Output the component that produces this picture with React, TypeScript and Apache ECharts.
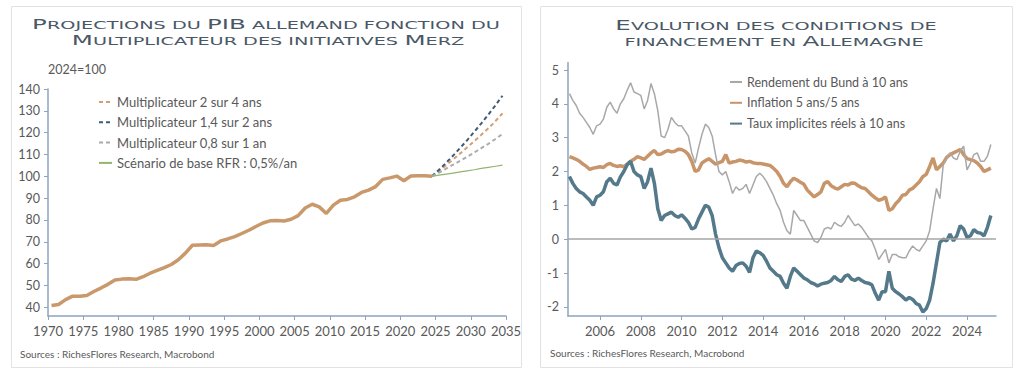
import React, { useEffect, useRef } from 'react';
import * as echarts from 'echarts';

// ---------- Left chart data (2024 = 100) ----------
const gdpYears = [
  1970, 1971, 1972, 1973, 1974, 1975, 1976, 1977, 1978, 1979,
  1980, 1981, 1982, 1983, 1984, 1985, 1986, 1987, 1988, 1989,
  1990, 1991, 1992, 1993, 1994, 1995, 1996, 1997, 1998, 1999,
  2000, 2001, 2002, 2003, 2004, 2005, 2006, 2007, 2008, 2009,
  2010, 2011, 2012, 2013, 2014, 2015, 2016, 2017, 2018, 2019,
  2020, 2021, 2022, 2023, 2024,
];
const gdpIndex = [
  40.8, 41.3, 43.5, 45.1, 45.0, 45.4, 47.2, 48.8, 50.5, 52.5,
  52.9, 53.1, 52.8, 54.0, 55.6, 56.9, 58.2, 59.6, 61.8, 64.8,
  68.4, 68.5, 68.6, 68.3, 70.4, 71.3, 72.4, 73.8, 75.3, 77.0,
  78.6, 79.6, 79.7, 79.5, 80.3, 82.0, 85.5, 87.2, 86.0, 83.0,
  86.8, 89.0, 89.4, 90.6, 92.6, 93.7, 95.3, 98.6, 99.3, 100.1,
  98.0, 100.1, 100.3, 100.2, 100.0,
];
const projYears = [2024, 2025, 2026, 2027, 2028, 2029, 2030, 2031, 2032, 2033, 2034];
const projMult2 = [100, 102.5, 105.1, 107.8, 110.5, 113.3, 116.1, 119.0, 122.0, 125.3, 128.8];
const projMult14 = [100, 103.0, 106.2, 109.5, 113.0, 116.6, 120.4, 124.3, 128.3, 132.5, 136.9];
const projMult08 = [100, 101.7, 103.5, 105.3, 107.1, 109.0, 110.9, 112.9, 114.9, 117.1, 119.4];
const projBase = [100, 100.5, 101.0, 101.5, 102.0, 102.5, 103.0, 103.6, 104.1, 104.6, 105.1];

const leftNames = [
  'Multiplicateur 2 sur 4 ans',
  'Multiplicateur 1,4 sur 2 ans',
  'Multiplicateur 0,8 sur 1 an',
  'Scénario de base RFR : 0,5%/an',
];

// ---------- Right chart data (every two months from mid-2004) ----------
const ratesStartYear = 2004.5;
const ratesStepYears = 1 / 6;
const bund10y = [
  4.30, 4.10, 3.95, 3.72, 3.60, 3.45, 3.30, 3.10, 3.35, 3.40,
  3.55, 3.90, 4.05, 3.85, 3.72, 4.00, 4.15, 4.40, 4.62, 4.35,
  4.30, 4.25, 3.85, 4.10, 4.60, 4.30, 3.80, 3.05, 3.00, 3.25,
  3.60, 3.45, 3.35, 3.35, 3.20, 3.05, 2.55, 2.25, 2.70, 3.10,
  3.40, 3.30, 3.05, 2.50, 2.00, 1.90, 2.00, 1.70, 1.35, 1.55,
  1.45, 1.50, 1.62, 1.35, 1.60, 1.85, 1.95, 1.85, 1.70, 1.50,
  1.30, 1.05, 0.85, 0.50, 0.25, 0.15, 0.85, 0.70, 0.55, 0.55,
  0.35, 0.15, -0.05, -0.10, 0.05, 0.30, 0.35, 0.30, 0.50, 0.42,
  0.38, 0.50, 0.70, 0.55, 0.40, 0.45, 0.35, 0.20, 0.05, -0.05,
  -0.30, -0.60, -0.45, -0.30, -0.70, -0.45, -0.45, -0.52, -0.55, -0.55,
  -0.35, -0.20, -0.30, -0.35, -0.20, -0.05, 0.25, 0.90, 1.50, 1.20,
  2.20, 2.40, 2.55, 2.40, 2.35, 2.60, 2.75, 2.05, 2.25, 2.50,
  2.55, 2.30, 2.30, 2.45, 2.80,
];
const infl5y5y = [
  2.44, 2.40, 2.36, 2.30, 2.22, 2.15, 2.06, 2.10, 2.12, 2.14,
  2.12, 2.20, 2.24, 2.18, 2.15, 2.17, 2.14, 2.22, 2.30, 2.36,
  2.44, 2.40, 2.36, 2.45, 2.55, 2.62, 2.50, 2.52, 2.58, 2.62,
  2.58, 2.60, 2.66, 2.65, 2.60, 2.50, 2.30, 2.00, 2.05, 2.25,
  2.32, 2.38, 2.30, 2.22, 2.26, 2.30, 2.50, 2.25, 2.28, 2.30,
  2.34, 2.32, 2.28, 2.30, 2.26, 2.24, 2.24, 2.22, 2.20, 2.18,
  2.10, 2.00, 1.85, 1.65, 1.55, 1.70, 1.80, 1.75, 1.68, 1.62,
  1.45, 1.35, 1.25, 1.32, 1.40, 1.65, 1.70, 1.58, 1.52, 1.48,
  1.55, 1.62, 1.60, 1.66, 1.65, 1.58, 1.52, 1.50, 1.40, 1.30,
  1.22, 1.15, 1.18, 1.25, 0.85, 0.90, 1.05, 1.15, 1.30, 1.32,
  1.45, 1.50, 1.60, 1.70, 1.85, 1.92, 2.15, 2.40, 2.05, 2.15,
  2.25, 2.42, 2.50, 2.55, 2.60, 2.65, 2.50, 2.38, 2.35, 2.32,
  2.25, 2.15, 2.00, 2.05, 2.10,
];
const realRate10y = [
  1.85, 1.65, 1.50, 1.40, 1.35, 1.25, 1.15, 1.00, 1.25, 1.30,
  1.40, 1.70, 1.80, 1.65, 1.60, 1.84, 2.00, 2.20, 2.30, 2.00,
  1.90, 1.85, 1.50, 1.70, 2.10, 1.65, 0.90, 0.55, 0.70, 0.75,
  0.80, 0.70, 0.65, 0.72, 0.62, 0.50, 0.30, 0.35, 0.60, 0.80,
  1.00, 0.95, 0.70, 0.15, -0.25, -0.55, -0.70, -0.85, -0.95, -0.78,
  -0.72, -0.70, -0.80, -0.98, -0.55, -0.35, -0.40, -0.48, -0.65, -0.85,
  -0.95, -1.05, -1.10, -1.30, -1.45, -1.10, -0.85, -0.95, -1.05, -1.15,
  -1.20, -1.28, -1.32, -1.38, -1.33, -1.30, -1.28, -1.22, -1.10, -1.20,
  -1.25, -1.10, -1.05, -1.18, -1.22, -1.15, -1.22, -1.28, -1.30, -1.35,
  -1.60, -1.80, -1.55, -1.55, -0.95, -1.45, -1.55, -1.62, -1.70, -1.80,
  -1.72, -1.78, -1.90, -1.95, -2.15, -2.05, -1.80, -1.30, -0.70, -0.10,
  0.00, -0.05, 0.15, -0.05, 0.10, 0.40, 0.30, 0.05, 0.10, 0.28,
  0.20, 0.18, 0.10, 0.35, 0.70,
];
const rightNames = [
  'Rendement du Bund à 10 ans',
  'Inflation 5 ans/5 ans',
  'Taux implicites réels à 10 ans',
];

const sourcesText = 'Sources : RichesFlores Research, Macrobond';

const FONT = 'Lato';
const TEXT = '#595959';
const AXIS = '#8ea3bf';
const TITLE = '#4a5866';

function richTitle(x: number, y: number, text: string) {
  return {
    type: 'text',
    x,
    y,
    scaleX: 1.75,
    scaleY: 1,
    style: {
      text,
      align: 'center',
      verticalAlign: 'middle',
      fill: TITLE,
      rich: {
        b: { fontFamily: 'DejaVu Sans', fontSize: 14, fill: TITLE, verticalAlign: 'bottom' },
        s: { fontFamily: 'DejaVu Sans', fontSize: 11, fill: TITLE, verticalAlign: 'bottom' },
      },
    },
  };
}

export default function App() {
  const ref = useRef<HTMLDivElement>(null);

  useEffect(() => {
    document.body.style.margin = '0';
    if (!ref.current) return;
    const chart = echarts.init(ref.current, undefined, { renderer: 'svg' });

    const gdpData = gdpYears.map((y, i) => [y + 0.5, gdpIndex[i]]);
    const proj = (arr: number[]) => projYears.map((y, i) => [y + 0.5, arr[i]]);
    const rx = (i: number) => ratesStartYear + i * ratesStepYears;
    const bundData = bund10y.map((v, i) => [rx(i), v]);
    const inflData = infl5y5y.map((v, i) => [rx(i), v]);
    const realData = realRate10y.map((v, i) => [rx(i), v]);

    const intLabel = (v: number) => (Math.abs(v - Math.round(v)) < 1e-6 ? String(Math.round(v)) : '');

    const axisCommonX = {
      type: 'value',
      axisLine: { show: true, onZero: false, lineStyle: { color: AXIS, width: 1.5 } },
      axisTick: { show: true, length: 4, lineStyle: { color: AXIS } },
      splitLine: { show: false },
      axisLabel: { color: TEXT, fontSize: 13, fontFamily: FONT, margin: 8, formatter: intLabel, showMinLabel: false, showMaxLabel: true },
    };
    const axisCommonY = {
      type: 'value',
      axisLine: { show: true, onZero: false, lineStyle: { color: AXIS, width: 1.5 } },
      axisTick: { show: true, length: 4, lineStyle: { color: AXIS } },
      splitLine: { show: false },
      axisLabel: { color: TEXT, fontSize: 12.5, fontFamily: FONT, margin: 8, formatter: intLabel, showMinLabel: false },
    };

    chart.setOption({
      animation: false,
      textStyle: { fontFamily: FONT },
      grid: [
        { left: 48, top: 89, width: 458, height: 227 },
        { left: 568, top: 70, width: 428, height: 246 },
      ],
      xAxis: [
        { ...axisCommonX, gridIndex: 0, min: 1970, max: 2035, splitNumber: 13,
          axisLabel: { ...axisCommonX.axisLabel, showMinLabel: true } },
        { ...axisCommonX, gridIndex: 1, min: 2004.43, max: 2025.42, splitNumber: 10,
          axisLabel: { ...axisCommonX.axisLabel, showMaxLabel: false } },
      ],
      yAxis: [
        { ...axisCommonY, gridIndex: 0, min: 36, max: 140, splitNumber: 10 },
        { ...axisCommonY, gridIndex: 1, min: -2.27, max: 5, splitNumber: 8,
          axisLabel: { ...axisCommonY.axisLabel, margin: 9 } },
      ],
      legend: [
        {
          data: leftNames,
          orient: 'vertical',
          left: 98,
          top: 95,
          padding: 0,
          itemWidth: 13,
          itemHeight: 14,
          itemGap: 6.3,
          itemStyle: { opacity: 0 },
          textStyle: { color: TEXT, fontSize: 13, fontFamily: FONT, lineHeight: 14 },
          selectedMode: false,
        },
        {
          data: rightNames,
          orient: 'vertical',
          left: 729,
          top: 75,
          padding: 0,
          itemWidth: 12,
          itemHeight: 14,
          itemGap: 6.8,
          itemStyle: { opacity: 0 },
          textStyle: { color: TEXT, fontSize: 12.5, fontFamily: FONT, lineHeight: 14 },
          selectedMode: false,
        },
      ],
      series: [
        {
          name: 'PIB allemand', type: 'line', xAxisIndex: 0, yAxisIndex: 0, data: gdpData,
          symbol: 'none', lineStyle: { color: '#c9996c', width: 3.5 }, z: 3,
        },
        {
          name: leftNames[0], type: 'line', xAxisIndex: 0, yAxisIndex: 0, data: proj(projMult2),
          symbol: 'none', lineStyle: { color: '#d49f74', width: 2, type: [4, 3] }, itemStyle: { color: '#d49f74' }, z: 2,
        },
        {
          name: leftNames[1], type: 'line', xAxisIndex: 0, yAxisIndex: 0, data: proj(projMult14),
          symbol: 'none', lineStyle: { color: '#3f5b7a', width: 2, type: [4, 3] }, itemStyle: { color: '#3f5b7a' }, z: 2,
        },
        {
          name: leftNames[2], type: 'line', xAxisIndex: 0, yAxisIndex: 0, data: proj(projMult08),
          symbol: 'none', lineStyle: { color: '#ababab', width: 2, type: [4, 3] }, itemStyle: { color: '#ababab' }, z: 2,
        },
        {
          name: leftNames[3], type: 'line', xAxisIndex: 0, yAxisIndex: 0, data: proj(projBase),
          symbol: 'none', lineStyle: { color: '#93b56f', width: 1.2 }, itemStyle: { color: '#93b56f' }, z: 2,
        },
        {
          name: rightNames[1], type: 'line', xAxisIndex: 1, yAxisIndex: 1, data: inflData,
          symbol: 'none', lineStyle: { color: '#c8956a', width: 3.5 }, itemStyle: { color: '#c8956a' }, z: 2,
          markLine: {
            silent: true, symbol: ['none', 'none'], label: { show: false },
            lineStyle: { color: '#a6a6a6', width: 1.5, type: 'solid' },
            data: [{ yAxis: 0 }],
          },
        },
        {
          name: rightNames[2], type: 'line', xAxisIndex: 1, yAxisIndex: 1, data: realData,
          symbol: 'none', lineStyle: { color: '#53798a', width: 3.5 }, itemStyle: { color: '#53798a' }, z: 3,
        },
        {
          name: rightNames[0], type: 'line', xAxisIndex: 1, yAxisIndex: 1, data: bundData,
          symbol: 'none', lineStyle: { color: '#a8a8a8', width: 1.5 }, itemStyle: { color: '#a8a8a8' }, z: 4,
        },
      ],
      graphic: [
        { type: 'rect', shape: { x: 11.5, y: 6.5, width: 510, height: 361 }, style: { fill: 'none', stroke: '#e2e2e2', lineWidth: 1 }, silent: true },
        { type: 'rect', shape: { x: 540.5, y: 6.5, width: 472, height: 361 }, style: { fill: 'none', stroke: '#e2e2e2', lineWidth: 1 }, silent: true },
        richTitle(266, 24, '{b|P}{s|ROJECTIONS DU }{b|PIB}{s| ALLEMAND FONCTION DU}'),
        richTitle(268, 40, '{b|M}{s|ULTIPLICATEUR DES INITIATIVES }{b|M}{s|ERZ}'),
        richTitle(776, 25, '{b|E}{s|VOLUTION DES CONDITIONS DE}'),
        richTitle(774, 41, '{s|FINANCEMENT EN }{b|A}{s|LLEMAGNE}'),
        { type: 'text', x: 48, y: 69, style: { text: '2024=100', fill: TEXT, fontSize: 12.5, fontFamily: FONT, verticalAlign: 'middle' } },
        { type: 'text', x: 20, y: 354, style: { text: sourcesText, fill: TEXT, fontSize: 10, fontFamily: FONT, verticalAlign: 'middle' } },
        { type: 'text', x: 550, y: 353, style: { text: sourcesText, fill: TEXT, fontSize: 10, fontFamily: FONT, verticalAlign: 'middle' } },
        { type: 'line', shape: { x1: 568, y1: 62, x2: 568, y2: 70 }, style: { stroke: AXIS, lineWidth: 1.5 }, silent: true },
      ],
    });

    return () => chart.dispose();
  }, []);

  return <div ref={ref} style={{ width: 1024, height: 377 }} />;
}
